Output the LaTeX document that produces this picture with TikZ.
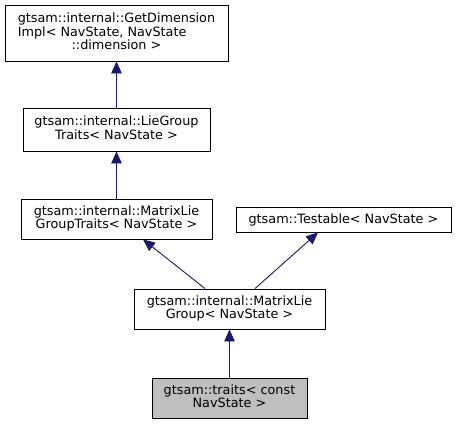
\documentclass[tikz,border=0pt]{standalone}
\usepackage{fontspec}
\setmainfont{DejaVu Sans}
\usetikzlibrary{arrows.meta}
\definecolor{edgeblue}{HTML}{191970}
\definecolor{leafgray}{HTML}{BFBFBF}
\tikzset{
  x=1pt, y=-1pt,
  cls/.style={draw=black, line width=0.9pt, fill=white, inner sep=0pt, align=center,
    font=\fontsize{12.8}{12.2}\selectfont},
  inh/.style={draw=edgeblue, line width=0.9pt, -{Triangle[length=12pt,width=10.5pt]}},
}
\newcommand{\lns}[2]{\begin{tabular}{@{}l@{}}#1\\\multicolumn{1}{@{}c@{}}{#2}\end{tabular}}
\begin{document}
\begin{tikzpicture}
\useasboundingbox (0,0) rectangle (456,424);
\node[cls, minimum width=223pt, minimum height=56pt] (gd) at (116.5,33)
  {\begin{tabular}{@{}l@{}}gtsam::internal::GetDimension\\Impl< NavState, NavState\\\multicolumn{1}{@{}c@{}}{::dimension >}\end{tabular}};
\node[cls, minimum width=187pt, minimum height=43pt] (lgt) at (116.5,129.5)
  {\lns{gtsam::internal::LieGroup}{Traits< NavState >}};
\node[cls, minimum width=191pt, minimum height=40pt] (mlgt) at (116.5,219)
  {\lns{gtsam::internal::MatrixLie}{GroupTraits< NavState >}};
\node[cls, minimum width=215pt, minimum height=25pt] (tst) at (343.5,219.5)
  {gtsam::Testable< NavState >};
\node[cls, minimum width=191pt, minimum height=40pt] (mlg) at (229.5,309)
  {\lns{gtsam::internal::MatrixLie}{Group< NavState >}};
\node[cls, fill=leafgray, minimum width=155pt, minimum height=40pt] (tr) at (229.5,398)
  {\lns{gtsam::traits< const}{NavState >}};
\draw[inh] (lgt) -- (gd);
\draw[inh] (mlgt) -- (lgt);
\draw[inh] ([xshift=-24.5pt]mlg.north) -- ([xshift=26.5pt]mlgt.south);
\draw[inh] ([xshift=25.5pt]mlg.north) -- ([xshift=-25.5pt]tst.south);
\draw[inh] (tr) -- (mlg);
\end{tikzpicture}
\end{document}
